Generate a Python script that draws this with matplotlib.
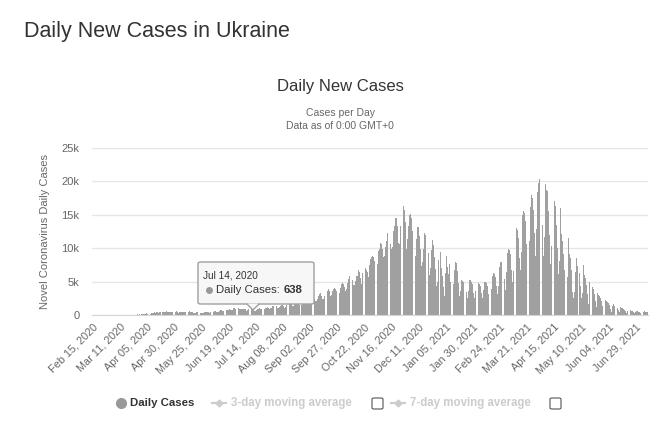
import matplotlib
matplotlib.use("Agg")
import matplotlib.pyplot as plt
from matplotlib.patches import FancyBboxPatch, Polygon
from matplotlib.lines import Line2D
import numpy as np
import pandas as pd

plt.rcParams['font.family'] = ['Liberation Sans', 'DejaVu Sans']

# daily new cases, Feb 15 2020 -> Jul 10 2021
feb20 = [0] * 15
mar20 = [0, 0, 1, 0, 0, 0, 0, 0, 0, 0, 0, 0, 2, 0, 0, 4, 0, 7, 0, 10,
         21, 6, 12, 26, 37, 32, 83, 38, 138, 69, 134]
apr20 = [125, 153, 150, 163, 254, 115, 179, 220, 247, 320, 325, 392, 261, 427, 395,
         343, 478, 397, 477, 392, 418, 508, 578, 477, 416, 392, 423, 474, 505, 540]
may20 = [455, 550, 502, 366, 418, 401, 447, 507, 512, 500, 402, 477, 375, 531, 446, 434,
         421, 325, 258, 361, 419, 389, 433, 363, 340, 260, 354, 477, 410, 456, 416]
jun20 = [378, 341, 390, 479, 521, 579, 607, 472, 457, 518, 668, 683, 753, 619, 658,
         575, 676, 692, 754, 849, 800, 757, 804, 985, 1003, 887, 1109, 1114, 845, 929]
jul20 = [916, 920, 953, 891, 850, 651, 750, 863, 944, 844, 829, 800, 666, 638, 710, 869,
         947, 1032, 950, 848, 780, 838, 994, 1106, 1197, 1052, 942, 1061, 1121, 1274, 1292]
aug20 = [1318, 1276, 1062, 1075, 1201, 1315, 1453, 1548, 1326, 1089, 1228, 1447, 1592, 1617,
         1733, 1575, 1374, 1402, 1742, 1967, 2070, 2118, 1837, 1541, 1445, 1880, 2134, 2438,
         2481, 2247, 1904]
sep20 = [2141, 2495, 2591, 2836, 2723, 2445, 2134, 2088, 2411, 2776, 3144, 3228, 2905, 2462,
         2342, 2905, 3372, 3584, 3833, 3564, 2836, 2929, 3565, 3958, 4027, 3881, 3564, 3068,
         3338, 4061]
oct20 = [4633, 4753, 4661, 4133, 3627, 3883, 4753, 5397, 5804, 5992, 5255, 4457, 4420, 5133,
         5786, 5892, 6719, 6410, 5469, 4696, 6359, 7474, 7053, 6781, 6410, 5653, 7517, 8312,
         8752, 8899, 8752]
nov20 = [8147, 7474, 7637, 9524, 9850, 10746, 10611, 9946, 8687, 8804, 10179, 11057, 12331,
         11787, 10622, 9843, 10109, 12585, 13357, 14580, 14575, 13310, 10811, 10699, 13395,
         15331, 16294, 15719, 13849, 9945]
dec20 = [11379, 13369, 14902, 15151, 14476, 12628, 10004, 8844, 11330, 13207, 13120, 11893,
         9947, 7340, 7883, 9934, 12318, 11948, 11476, 9213, 6018, 7097, 9740, 11173, 10443,
         8646, 6954, 4385, 4918, 8228, 9501]
jan21 = [7036, 5900, 4200, 2900, 6240, 8800, 7200, 6100, 7600, 5000, 3200, 4700, 6800, 8000,
         7800, 6600, 4800, 2900, 3600, 5300, 5100, 5000, 4500, 3400, 2600, 3600, 5300, 5200,
         5000, 4600, 3300]
feb21 = [2500, 3600, 5000, 4800, 4700, 4300, 3300, 2500, 3700, 5000, 4900, 4800, 4400, 3200,
         2600, 3900, 5800, 6300, 6200, 5700, 4300, 3100, 4300, 7200, 8000, 7900, 7300, 5400]
mar21 = [3700, 6400, 9300, 9900, 9700, 9100, 6800, 4900, 6600, 11100, 13000, 12700, 11500,
         8600, 6800, 9500, 14900, 15600, 15200, 14000, 10600, 8000, 11100, 16100, 17900, 17500,
         15700, 12300, 8900, 12900, 18400]
apr21 = [19800, 20300, 17800, 13500, 8900, 11700, 19600, 18700, 18500, 15500, 12000, 7600,
         10400, 17200, 17100, 16300, 13400, 10100, 6100, 8100, 16000, 12200, 11100, 9200, 6800,
         4500, 5700, 11500, 9200, 8600]
may21 = [6800, 3500, 2600, 3400, 6500, 8500, 7300, 6300, 4300, 2500, 3300, 7500, 6000, 5500,
         4500, 3100, 1700, 5000, 4600, 4200, 3900, 3200, 2100, 1200, 3300, 3000, 2800, 2600,
         2100, 1400, 800]
jun21 = [2300, 2100, 1900, 1800, 1500, 900, 500, 1400, 1600, 1400, 1300, 1100, 800, 400, 1150,
         1100, 1000, 900, 800, 600, 300, 600, 750, 700, 650, 600, 450, 250, 450, 600]
jul21 = [550, 500, 480, 350, 200, 400, 550, 520, 500, 450]

daily_cases = (feb20 + mar20 + apr20 + may20 + jun20 + jul20 + aug20 + sep20 + oct20 +
               nov20 + dec20 + jan21 + feb21 + mar21 + apr21 + may21 + jun21 + jul21)
dates = pd.date_range("2020-02-15", periods=len(daily_cases), freq="D")

tick_labels = ["Feb 15, 2020", "Mar 11, 2020", "Apr 05, 2020", "Apr 30, 2020",
               "May 25, 2020", "Jun 19, 2020", "Jul 14, 2020", "Aug 08, 2020",
               "Sep 02, 2020", "Sep 27, 2020", "Oct 22, 2020", "Nov 16, 2020",
               "Dec 11, 2020", "Jan 05, 2021", "Jan 30, 2021", "Feb 24, 2021",
               "Mar 21, 2021", "Apr 15, 2021", "May 10, 2021", "Jun 04, 2021",
               "Jun 29, 2021"]
y_ticks = [0, 5000, 10000, 15000, 20000, 25000]
y_tick_labels = ["0", "5k", "10k", "15k", "20k", "25k"]

tooltip_date = "Jul 14, 2020"
tooltip_value = 638

W, H = 666, 421
fig = plt.figure(figsize=(W / 100, H / 100), dpi=100)

def fx(px):
    return px / W

def fy(py):
    return 1 - py / H

ax = fig.add_axes([fx(92), fy(315), fx(648) - fx(92), fy(148) - fy(315)])

x = np.arange(len(daily_cases))
ax.bar(x, daily_cases, width=0.85, color='#a0a0a0', edgecolor='none', zorder=2)
ax.set_xlim(-0.5, len(daily_cases) - 0.5)
ax.set_ylim(0, 25000)

tick_pos = [dates.get_loc(pd.to_datetime(t, format="%b %d, %Y")) for t in tick_labels]
ax.set_xticks(tick_pos)
ax.set_xticklabels(tick_labels, rotation=45, ha='right', va='top',
                   rotation_mode='anchor', fontsize=7.8, color='#666666')
ax.tick_params(axis='x', length=0, pad=5)
ax.set_yticks(y_ticks)
ax.set_yticklabels(y_tick_labels, fontsize=8, color='#666666')
ax.tick_params(axis='y', length=0, pad=9)
ax.grid(axis='y', color='#e6e6e6', linewidth=1, zorder=0)
for s in ['top', 'right', 'left']:
    ax.spines[s].set_visible(False)
ax.spines['bottom'].set_color('#ccd6eb')
ax.spines['bottom'].set_zorder(3)
ax.set_ylabel("Novel Coronavirus Daily Cases", fontsize=8, color='#666666', labelpad=8)

# titles
fig.text(fx(24), fy(32), "Daily New Cases in Ukraine", fontsize=15.5, color='#333333',
         ha='left', va='center')
fig.text(fx(340), fy(87), "Daily New Cases", fontsize=12, color='#333333',
         ha='center', va='center')
fig.text(fx(340), fy(113), "Cases per Day", fontsize=7.5, color='#666666',
         ha='center', va='center')
fig.text(fx(340), fy(126), "Data as of 0:00 GMT+0", fontsize=7.5, color='#666666',
         ha='center', va='center')

# tooltip
box = FancyBboxPatch((fx(198), fy(304)), fx(314) - fx(198), fy(262) - fy(304),
                     boxstyle="round,pad=0,rounding_size=0.004", transform=fig.transFigure,
                     facecolor='#f7f7f7', edgecolor='#a0a0a0', linewidth=1, zorder=10)
fig.add_artist(box)
arrow = Polygon([[fx(247), fy(303.5)], [fx(259), fy(303.5)], [fx(253), fy(310)]],
                closed=True, transform=fig.transFigure, facecolor='#f7f7f7',
                edgecolor='none', zorder=11)
fig.add_artist(arrow)
fig.add_artist(Line2D([fx(247), fx(253), fx(259)], [fy(304), fy(310), fy(304)],
                      transform=fig.transFigure, color='#a0a0a0', linewidth=1, zorder=12))
fig.text(fx(203), fy(276), tooltip_date, fontsize=7.2, color='#333333', va='center', zorder=13)
fig.add_artist(Line2D([fx(209)], [fy(290)], marker='o', markersize=4, color='#999999',
                      transform=fig.transFigure, zorder=13))
fig.text(fx(216), fy(290), "Daily Cases: ", fontsize=8.2, color='#333333', va='center', zorder=13)
fig.text(fx(284), fy(290), str(tooltip_value), fontsize=8.2, color='#333333', va='center',
         fontweight='bold', zorder=13)

# legend row
ly = fy(403)
fig.add_artist(Line2D([fx(121)], [ly], marker='o', markersize=7, color='#999999',
                      transform=fig.transFigure))
fig.text(fx(130), ly, "Daily Cases", fontsize=8.2, color='#333333', fontweight='bold', va='center')
for x0, label in [(212, "3-day moving average"), (391, "7-day moving average")]:
    fig.add_artist(Line2D([fx(x0), fx(x0 + 14)], [ly, ly], color='#cccccc', linewidth=1.5,
                          transform=fig.transFigure))
    fig.add_artist(Line2D([fx(x0 + 7)], [ly], marker='D', markersize=3.5, color='#cccccc',
                          transform=fig.transFigure))
    fig.text(fx(x0 + 19), ly, label, fontsize=8.3, color='#cccccc', fontweight='bold',
             va='center')
for cx in [372, 550]:
    fig.add_artist(FancyBboxPatch((fx(cx), fy(409)), fx(11), fy(398) - fy(409),
                                  boxstyle="round,pad=0,rounding_size=0.003",
                                  transform=fig.transFigure, facecolor='white',
                                  edgecolor='#555555', linewidth=0.8))

fig.savefig("out.png", dpi=100)
